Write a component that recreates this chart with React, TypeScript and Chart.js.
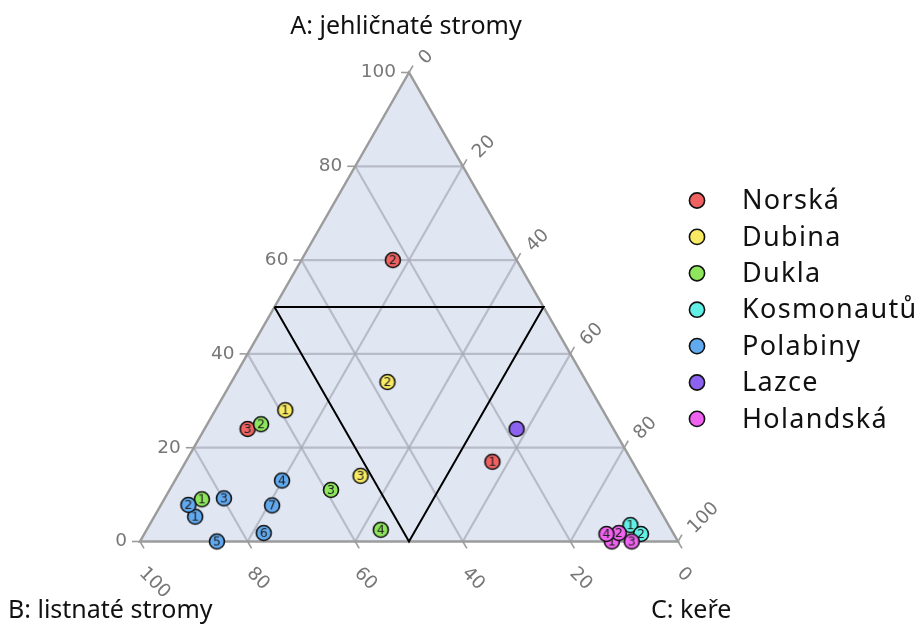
import React, { useEffect, useRef } from "react";
import { Chart, registerables } from "chart.js";

Chart.register(...registerables);

// ---- data (percent: A = jehličnaté, B = listnaté, C = keře) ----
const seriesNames = ["Norská", "Dubina", "Dukla", "Kosmonautů", "Polabiny", "Lazce", "Holandská"];
const seriesColors = ["#F06262", "#F8EA62", "#8EE65C", "#62F0E6", "#62AAF0", "#8C62F0", "#F062F0"];

const norskaA = [17, 60, 24];
const norskaB = [26, 23, 68];
const norskaC = [57, 17, 8];

const dubinaA = [28, 34, 14];
const dubinaB = [59, 37, 52];
const dubinaC = [13, 29, 34];

const duklaA = [9, 25, 11, 2.5];
const duklaB = [84, 65, 59, 54];
const duklaC = [7, 10, 30, 43.5];

const kosmonautuA = [3.5, 1.6];
const kosmonautuB = [7.1, 6.1];
const kosmonautuC = [89.4, 92.3];

const polabinyA = [5.3, 7.8, 9.2, 13, 0, 1.8, 7.7];
const polabinyB = [87.1, 87.1, 79.8, 67.1, 85.7, 76.1, 71.6];
const polabinyC = [7.6, 5.1, 11, 19.9, 14.3, 22.1, 20.7];

const lazceA = [24];
const lazceB = [18];
const lazceC = [58];

const holandskaA = [0, 1.8, 0, 1.6];
const holandskaB = [12.3, 10.1, 8.6, 12.5];
const holandskaC = [87.7, 88.1, 91.4, 85.9];

const seriesA = [norskaA, dubinaA, duklaA, kosmonautuA, polabinyA, lazceA, holandskaA];
const seriesB = [norskaB, dubinaB, duklaB, kosmonautuB, polabinyB, lazceB, holandskaB];
const seriesC = [norskaC, dubinaC, duklaC, kosmonautuC, polabinyC, lazceC, holandskaC];

// inner (central) triangle
const innerA = [50, 50, 0, 50];
const innerB = [50, 0, 50, 50];
const innerC = [0, 50, 50, 0];

const tickValues = [0, 20, 40, 60, 80, 100];
const gridValues = [20, 40, 60, 80];

const titleA = "A: jehličnaté stromy";
const titleB = "B: listnaté stromy";
const titleC = "C: keře";

// ternary -> cartesian (x: 0..100 from B vertex to C vertex, y: A percent)
function toXY(a: number, b: number, c: number) {
  const s = a + b + c;
  return { x: ((c + a / 2) / s) * 100, y: (a / s) * 100 };
}

function makeMarker(color: string, label: string) {
  const cv = document.createElement("canvas");
  cv.width = 20;
  cv.height = 20;
  const g = cv.getContext("2d")!;
  g.beginPath();
  g.arc(10, 10, 7.5, 0, Math.PI * 2);
  g.fillStyle = color;
  g.fill();
  g.lineWidth = 1.6;
  g.strokeStyle = "#111";
  g.stroke();
  if (label) {
    g.fillStyle = "#222";
    g.font = "12.5px 'DejaVu Sans', sans-serif";
    g.textAlign = "center";
    g.textBaseline = "middle";
    g.fillText(label, 10, 10.5);
  }
  return cv;
}

const ternaryPlugin = {
  id: "ternaryFrame",
  beforeDatasetsDraw(chart: any) {
    const ctx: CanvasRenderingContext2D = chart.ctx;
    const xs = chart.scales.x;
    const ys = chart.scales.y;
    const P = (a: number, b: number, c: number) => {
      const p = toXY(a, b, c);
      return [xs.getPixelForValue(p.x), ys.getPixelForValue(p.y)];
    };
    const pa = P(100, 0, 0);
    const pb = P(0, 100, 0);
    const pc = P(0, 0, 100);
    ctx.save();
    // background
    ctx.beginPath();
    ctx.moveTo(pa[0], pa[1]);
    ctx.lineTo(pb[0], pb[1]);
    ctx.lineTo(pc[0], pc[1]);
    ctx.closePath();
    ctx.fillStyle = "#E1E7F2";
    ctx.fill();
    // grid
    ctx.strokeStyle = "rgba(165,170,182,0.7)";
    ctx.lineWidth = 2.2;
    const line = (p: number[], q: number[]) => {
      ctx.beginPath();
      ctx.moveTo(p[0], p[1]);
      ctx.lineTo(q[0], q[1]);
      ctx.stroke();
    };
    for (const v of gridValues) {
      line(P(v, 100 - v, 0), P(v, 0, 100 - v));
      line(P(0, v, 100 - v), P(100 - v, v, 0));
      line(P(0, 100 - v, v), P(100 - v, 0, v));
    }
    // edges
    ctx.strokeStyle = "#9C9C9C";
    ctx.lineWidth = 2.5;
    ctx.beginPath();
    ctx.moveTo(pa[0], pa[1]);
    ctx.lineTo(pb[0], pb[1]);
    ctx.lineTo(pc[0], pc[1]);
    ctx.closePath();
    ctx.stroke();
    // ticks and labels
    ctx.lineWidth = 1.6;
    ctx.fillStyle = "#777777";
    ctx.font = "18.5px 'DejaVu Sans', sans-serif";
    const tl = 8;
    for (const v of tickValues) {
      // A axis (left edge)
      const qa = P(v, 100 - v, 0);
      line(qa, [qa[0] - tl, qa[1]]);
      ctx.textAlign = "right";
      ctx.textBaseline = "middle";
      ctx.fillText(String(v), qa[0] - 13, qa[1]);
      // B axis (bottom edge)
      const qb = P(0, v, 100 - v);
      line(qb, [qb[0] + tl * 0.5, qb[1] + tl * 0.866]);
      ctx.save();
      ctx.translate(qb[0] + 2, qb[1] + 29);
      ctx.rotate(Math.PI / 4);
      ctx.textAlign = "left";
      ctx.fillText(String(v), 0, 0);
      ctx.restore();
      // C axis (right edge)
      const qc = P(100 - v, 0, v);
      line(qc, [qc[0] + tl * 0.5, qc[1] - tl * 0.866]);
      ctx.save();
      ctx.translate(qc[0] + 13, qc[1] - 11);
      ctx.rotate(-Math.PI / 4);
      ctx.textAlign = "left";
      ctx.fillText(String(v), 0, 0);
      ctx.restore();
    }
    ctx.restore();
  },
  afterDraw(chart: any) {
    const ctx: CanvasRenderingContext2D = chart.ctx;
    ctx.save();
    ctx.fillStyle = "#111";
    ctx.font = "25px 'Noto Sans', sans-serif";
    ctx.textBaseline = "middle";
    ctx.textAlign = "center";
    ctx.fillText(titleA, 406, 27);
    ctx.textAlign = "left";
    ctx.fillText(titleB, 8, 611);
    ctx.fillText(titleC, 651, 611);
    // legend
    const rowY0 = 200.5;
    const rowH = 36.4;
    seriesNames.forEach((name, i) => {
      const y = rowY0 + i * rowH;
      ctx.beginPath();
      ctx.arc(697, y, 7.6, 0, Math.PI * 2);
      ctx.fillStyle = seriesColors[i];
      ctx.fill();
      ctx.lineWidth = 1.6;
      ctx.strokeStyle = "#111";
      ctx.stroke();
      ctx.fillStyle = "#111";
      ctx.font = "27px 'Noto Sans', sans-serif";
      ctx.textAlign = "left";
      ctx.textBaseline = "middle";
      (ctx as any).letterSpacing = "1.3px";
      ctx.fillText(name, 742, y + 1);
      (ctx as any).letterSpacing = "0px";
    });
    ctx.restore();
  },
};

export default function App() {
  const ref = useRef<HTMLCanvasElement | null>(null);
  useEffect(() => {
    if (!ref.current) return;
    const n = seriesNames.length;
    const datasets: any[] = seriesNames.map((name, i) => {
      const A = seriesA[i];
      const B = seriesB[i];
      const C = seriesC[i];
      const pts = A.map((a, j) => toXY(a, B[j], C[j]));
      const styles = A.map((_, j) => makeMarker(seriesColors[i], A.length > 1 ? String(j + 1) : ""));
      return {
        type: "scatter",
        label: name,
        data: pts,
        pointStyle: styles,
        pointRadius: 8,
        backgroundColor: seriesColors[i],
        borderColor: "#111",
        clip: false,
        order: n - i,
      };
    });
    datasets.push({
      type: "line",
      label: "inner",
      data: innerA.map((a, j) => toXY(a, innerB[j], innerC[j])),
      borderColor: "#000",
      borderWidth: 2,
      pointRadius: 0,
      fill: false,
      tension: 0,
      clip: false,
      order: 100,
    });
    const chart = new Chart(ref.current, {
      type: "scatter",
      data: { datasets },
      options: {
        animation: false,
        responsive: false,
        devicePixelRatio: 1,
        layout: { padding: { left: 140, right: 242, top: 72.5, bottom: 88.5 } },
        scales: {
          x: { type: "linear", min: 0, max: 100, display: false },
          y: { type: "linear", min: 0, max: 100, display: false },
        },
        plugins: { legend: { display: false }, tooltip: { enabled: false } },
      },
      plugins: [ternaryPlugin],
    } as any);
    return () => chart.destroy();
  }, []);
  return (
    <div style={{ position: "absolute", left: 0, top: 0, width: 920, height: 630, background: "#fff" }}>
      <canvas ref={ref} width={920} height={630} style={{ display: "block" }} />
    </div>
  );
}
